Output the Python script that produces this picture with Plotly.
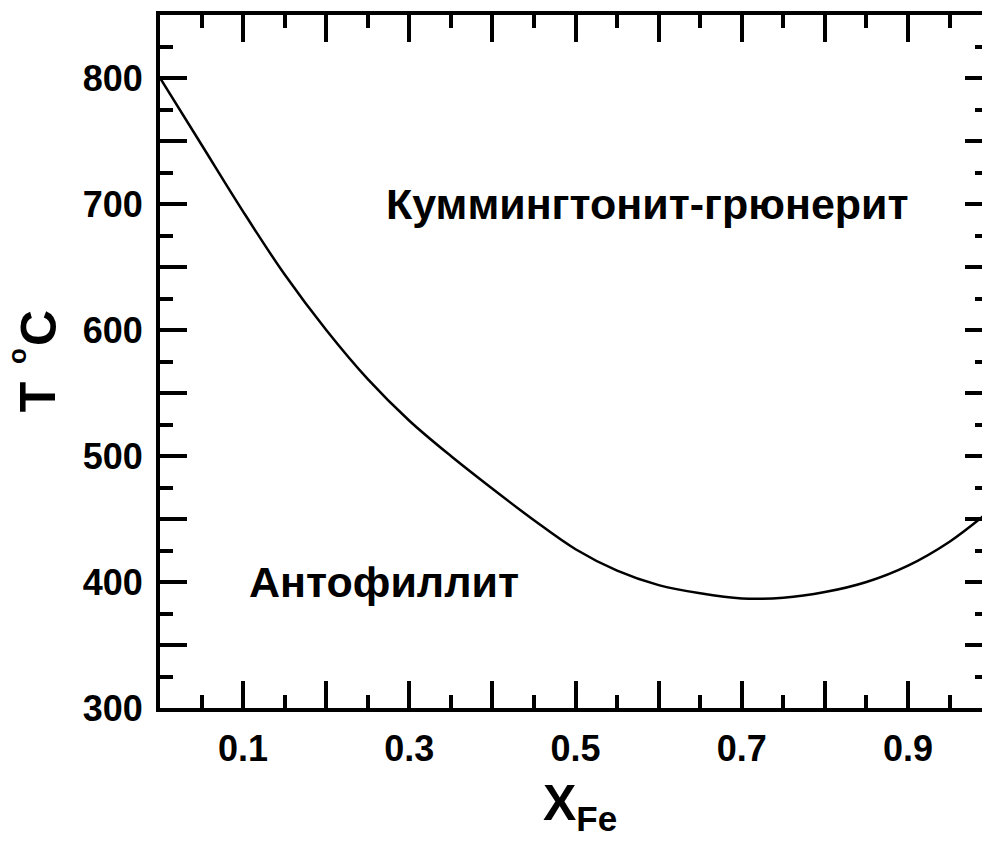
import plotly.graph_objects as go

# Boundary between anthophyllite and cummingtonite-grunerite fields
x_fe = [0.00, 0.05, 0.10, 0.15, 0.20, 0.25, 0.30, 0.35, 0.40, 0.45, 0.50,
        0.55, 0.60, 0.65, 0.70, 0.75, 0.80, 0.85, 0.90, 0.95, 0.99]
t_c = [800, 747, 694, 644, 600, 561, 528, 500, 474, 449, 426,
       409, 397.5, 391, 387, 387.5, 392, 400, 413, 432, 452]

# Axis ticks
x_major = [round(0.1 * i, 1) for i in range(11)]
x_labels = ["0.1", "0.3", "0.5", "0.7", "0.9"]
y_major = list(range(300, 851, 50))
y_labels = ["300", "400", "500", "600", "700", "800"]

# Field labels
field_names = ["Куммингтонит-грюнерит", "Антофиллит"]
field_x = [0.586, 0.270]
field_t = [700, 400]

FONT = "Liberation Sans, Arial, sans-serif"
X_MAX = 0.989  # visible part of the composition axis
Y_RANGE = [300, 850]

fig = go.Figure()
fig.add_trace(go.Scatter(
    x=x_fe, y=t_c, mode="lines",
    line=dict(color="black", width=2.5, shape="spline", smoothing=1.0),
    hoverinfo="skip", showlegend=False,
))
# same curve bound to the right-hand tick axis (not drawn)
fig.add_trace(go.Scatter(
    x=x_fe, y=t_c, mode="lines", yaxis="y2", opacity=0,
    line=dict(color="black", width=0), hoverinfo="skip", showlegend=False,
))

for name, xv, tv in zip(field_names, field_x, field_t):
    fig.add_annotation(x=xv, y=tv, text=f"<b>{name}</b>", showarrow=False,
                       font=dict(family=FONT, size=43, color="black"),
                       xanchor="center", yanchor="middle")

tick_font = dict(family=FONT, size=36, color="black", weight="bold")

fig.update_xaxes(
    range=[0, X_MAX], tickmode="array", tickvals=x_major,
    ticktext=[lbl if lbl in x_labels else "" for lbl in [f"{v:.1f}" for v in x_major]],
    showline=True, linecolor="black", linewidth=4, mirror="ticks",
    ticks="inside", tickcolor="black", tickwidth=4, ticklen=27,
    minor=dict(dtick=0.05, ticks="inside", ticklen=13, tickwidth=4, tickcolor="black"),
    showgrid=False, zeroline=False, tickfont=tick_font, ticklabelstandoff=6,
)
fig.update_layout(
    yaxis=dict(
        range=Y_RANGE, tickmode="array", tickvals=y_major,
        ticktext=[str(v) if str(v) in y_labels else "" for v in y_major],
        showline=True, linecolor="black", linewidth=4, mirror=False,
        ticks="inside", tickcolor="black", tickwidth=4, ticklen=27,
        minor=dict(dtick=25, ticks="inside", ticklen=13, tickwidth=4, tickcolor="black"),
        showgrid=False, zeroline=False, tickfont=tick_font, ticklabelstandoff=6,
    ),
    yaxis2=dict(
        range=Y_RANGE, overlaying="y", side="right", anchor="x",
        tickmode="array", tickvals=y_major, showticklabels=False,
        showline=False, ticks="inside", tickcolor="black", tickwidth=4, ticklen=17,
        minor=dict(dtick=25, ticks="inside", ticklen=7, tickwidth=4, tickcolor="black"),
        showgrid=False, zeroline=False,
    ),
)

# Axis titles
fig.add_annotation(xref="paper", yref="paper", x=0.511, y=-0.094,
                   text="<b>X<sub>Fe</sub></b>", showarrow=False,
                   font=dict(family=FONT, size=50, color="black"),
                   xanchor="center", yanchor="top")
# "T °C", set piece by piece so the degree ring sits above the capitals
title_font = dict(family=FONT, size=50, color="black")
for txt, yp in (("T", 0.4488), ("C", 0.549)):
    fig.add_annotation(xref="paper", yref="paper", x=-0.148, y=yp,
                       text=f"<b>{txt}</b>", showarrow=False, textangle=-90,
                       font=title_font, xanchor="center", yanchor="middle")
fig.add_annotation(xref="paper", yref="paper", x=-0.174, y=0.508,
                   text="<b>o</b>", showarrow=False, textangle=-90,
                   font=dict(family=FONT, size=26, color="black"),
                   xanchor="center", yanchor="middle")

fig.update_layout(
    width=982, height=847, autosize=False,
    margin=dict(l=160, r=0, t=15, b=139),
    paper_bgcolor="white", plot_bgcolor="white",
)

fig.write_html("out.html", config={"responsive": False})
